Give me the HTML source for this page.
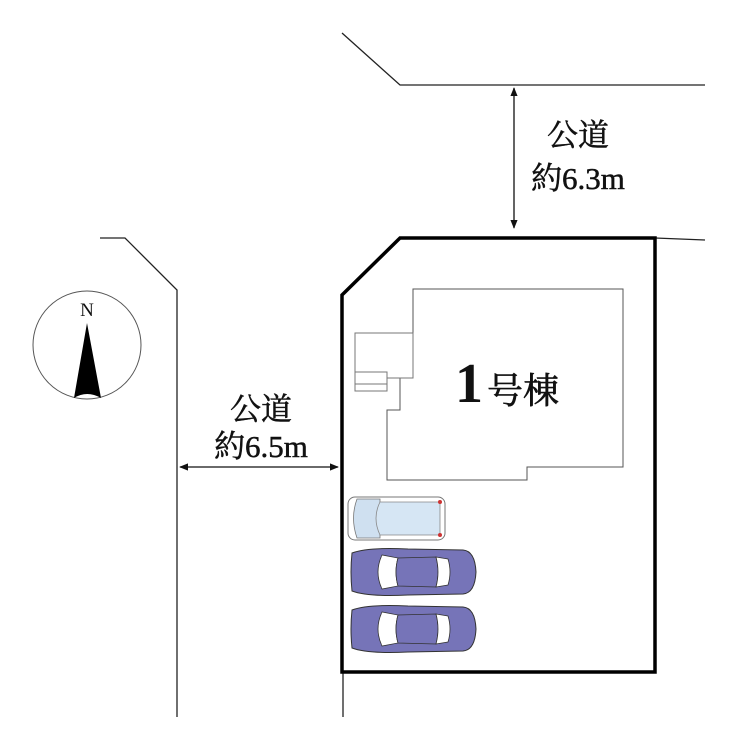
<!DOCTYPE html>
<html><head><meta charset="utf-8"><style>
body{margin:0;background:#fff;width:740px;height:751px;overflow:hidden}
svg{display:block}
text{font-family:"Liberation Serif","Noto Serif CJK SC",serif;fill:#111}
</style></head><body>
<svg width="740" height="751" viewBox="0 0 740 751">
<defs>
<marker id="ah" viewBox="0 0 10 10" refX="9" refY="5" markerWidth="7" markerHeight="7" orient="auto-start-reverse"><path d="M0,1 L10,5 L0,9 z" fill="#111"/></marker>
<g id="car">
<path d="M4,6 Q2,25 4,44 Q20,50 60,48 L115,47 Q127,46 128,25 Q127,4 115,3 L60,2 Q20,0 4,6z" fill="#7674b8" stroke="#333" stroke-width="1"/>
<path d="M34,8 Q26,25 34,42 L50,39 Q46,25 50,11z" fill="#fff" stroke="#333" stroke-width="0.8"/>
<path d="M50,11 Q46,25 50,39 L88,40 Q92,25 88,10z" fill="#7674b8" stroke="#333" stroke-width="0.8"/>
<path d="M88,10 Q92,25 88,40 L100,38 Q104,25 100,12z" fill="#fff" stroke="#333" stroke-width="0.8"/>
</g>
</defs>
<polyline points="342,33 400,85 705,85" fill="none" stroke="#222" stroke-width="1.3"/>
<polyline points="655,238 705,240" fill="none" stroke="#222" stroke-width="1.3"/>
<polyline points="100,238 125,238 177,290 177,717" fill="none" stroke="#222" stroke-width="1.3"/>
<line x1="343" y1="672" x2="343" y2="717" stroke="#222" stroke-width="1.3"/>
<polygon points="342,295 400,238 655,238 655,672 342,672" fill="none" stroke="#000" stroke-width="3.5"/>
<polygon points="413,289 623,289 623,467 527,467 527,480 387,480 387,410 400,410 400,378 413,378" fill="none" stroke="#555" stroke-width="1"/>
<rect x="355" y="333" width="58" height="45" fill="none" stroke="#777" stroke-width="1"/>
<rect x="355" y="372" width="32" height="19" fill="#fff" stroke="#777" stroke-width="1"/>
<line x1="355" y1="384" x2="387" y2="384" stroke="#777"/>
<text x="455" y="402" font-size="56" font-weight="bold">1</text>
<text x="487" y="403" font-size="36" stroke="#111" stroke-width="0.6">号棟</text>
<line x1="514" y1="88" x2="514" y2="228" stroke="#111" stroke-width="1.3" marker-start="url(#ah)" marker-end="url(#ah)"/>
<line x1="180" y1="467" x2="338" y2="467" stroke="#111" stroke-width="1.3" marker-start="url(#ah)" marker-end="url(#ah)"/>
<g stroke="#111" stroke-width="0.5">
<text x="578" y="146" font-size="31" text-anchor="middle">公道</text>
<text x="578" y="189" font-size="31" text-anchor="middle">約6.3m</text>
<text x="261" y="420" font-size="31" text-anchor="middle">公道</text>
<text x="261" y="457" font-size="31" text-anchor="middle">約6.5m</text>
</g>
<circle cx="87" cy="345" r="54" fill="none" stroke="#555" stroke-width="1"/>
<text x="87" y="316" font-size="19" text-anchor="middle">N</text>
<path d="M87,323 L74,398 Q87,390 101,398 z" fill="#000"/>
<g>
<rect x="348" y="497" width="97" height="43" rx="7" fill="#fff" stroke="#777"/>
<path d="M357,499 Q350,518 357,538 L380,538 L380,499z" fill="#cfe0f0" stroke="#777" stroke-width="0.8"/>
<path d="M380,502 L440,502 L440,535 L380,535 Q372,518 380,502z" fill="#d6e6f4" stroke="#888" stroke-width="0.8"/>
<circle cx="440" cy="502" r="2" fill="#c33"/><circle cx="440" cy="535" r="2" fill="#c33"/>
</g>
<use href="#car" transform="translate(348,547)"/>
<use href="#car" transform="translate(348,604)"/>
</svg>
</body></html>
